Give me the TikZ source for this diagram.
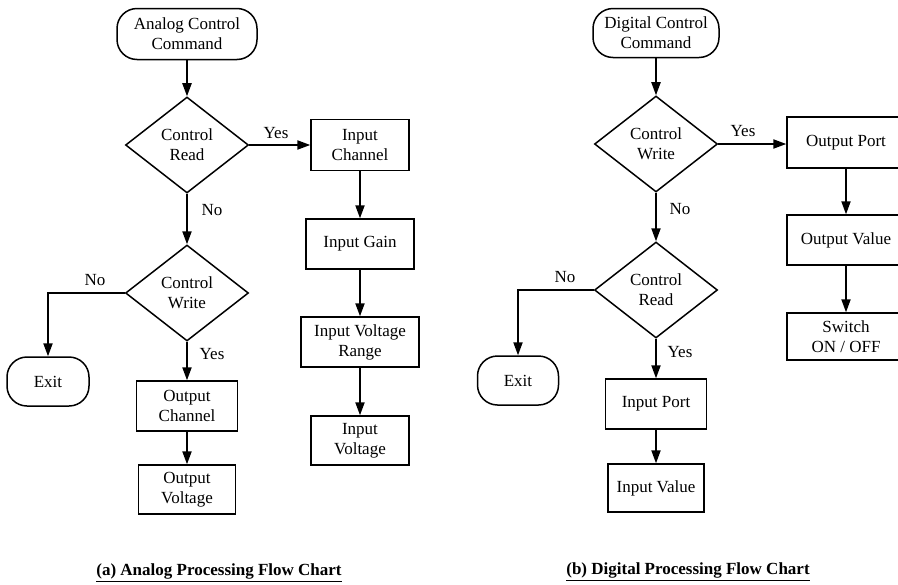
\documentclass[tikz,border=0pt]{standalone}
\usepackage{fontspec}
\setmainfont{Liberation Serif}
\usetikzlibrary{shapes.geometric,arrows.meta}
\begin{document}
\begin{tikzpicture}[x=0.5pt,y=-0.5pt,
  every node/.style={font=\fontsize{8.5}{10}\selectfont, align=center},
  flowbox/.style={draw, line width=0.75pt, rectangle, inner sep=1pt},
  decision/.style={draw, line width=0.75pt, diamond, inner sep=0pt,
    minimum width=61.5pt, minimum height=48pt},
  terminal/.style={draw, line width=0.75pt, rectangle, rounded corners=10pt, inner sep=1pt},
  flow/.style={line width=0.75pt, -{Triangle[length=6.5pt,width=4.6pt]}},
  lbl/.style={inner sep=0pt},
  caption/.style={font=\fontsize{8.5}{10}\bfseries\selectfont}
]
\useasboundingbox (0,0) rectangle (898,584);
\fill[white] (0,0) rectangle (898,584);
\clip (0,0) rectangle (898,584);

% ---------- (a) analog processing ----------
\node[terminal, minimum width=70pt, minimum height=25.5pt] (acmd) at (187,34) {Analog Control\\Command};
\node[decision] (aread) at (187,145) {Control\\Read};
\node[flowbox, minimum width=49pt, minimum height=25.5pt] (ainch) at (360,145) {Input\\Channel};
\node[flowbox, minimum width=54pt, minimum height=25pt] (again) at (360,244) {Input Gain};
\node[flowbox, minimum width=59pt, minimum height=25pt] (arange) at (360,342) {Input Voltage\\Range};
\node[flowbox, minimum width=49pt, minimum height=24.5pt] (ainv) at (360,440.5) {Input\\Voltage};
\node[decision] (awrite) at (187,293) {Control\\Write};
\node[terminal, minimum width=41pt, minimum height=24.5pt] (aexit) at (48,381.5) {Exit};
\node[flowbox, minimum width=50.5pt, minimum height=25pt] (aoutch) at (187,406) {Output\\Channel};
\node[flowbox, minimum width=48.5pt, minimum height=24.5pt] (aoutv) at (187,489.5) {Output\\Voltage};

\draw[flow] (acmd) -- (aread);
\draw[flow] (aread.east) -- (ainch.west);
\draw[flow] (aread.south) -- (awrite.north);
\draw[flow] (awrite.west) -| (aexit.north);
\draw[flow] (awrite.south) -- (aoutch.north);
\draw[flow] (aoutch) -- (aoutv);
\draw[flow] (ainch) -- (again);
\draw[flow] (again) -- (arange);
\draw[flow] (arange) -- (ainv);

\node[lbl] (ayes1) at (276,133) {Yes};
\node[lbl] (ano1) at (212,210) {No};
\node[lbl] (ano2) at (95,280) {No};
\node[lbl] (ayes2) at (212,354) {Yes};

% ---------- (b) digital processing ----------
\node[terminal, minimum width=63pt, minimum height=24.5pt] (dcmd) at (656,33) {Digital Control\\Command};
\node[decision] (dwrite) at (656,144) {Control\\Write};
\node[flowbox, minimum width=59pt, minimum height=25.5pt] (doutp) at (846,142.5) {Output Port};
\node[flowbox, minimum width=59pt, minimum height=25pt] (doutv) at (846,240) {Output Value};
\node[flowbox, minimum width=59pt, minimum height=23.5pt] (dsw) at (846,336.5) {Switch\\ON / OFF};
\node[decision] (dread) at (656,290) {Control\\Read};
\node[terminal, minimum width=40.5pt, minimum height=24.5pt] (dexit) at (518,380.5) {Exit};
\node[flowbox, minimum width=50.5pt, minimum height=25pt] (dinp) at (656,404) {Input Port};
\node[flowbox, minimum width=48pt, minimum height=24pt] (dinv) at (656,488) {Input Value};

\draw[flow] (dcmd) -- (dwrite);
\draw[flow] (dwrite.east) -- (doutp.west |- dwrite.east);
\draw[flow] (dwrite.south) -- (dread.north);
\draw[flow] (dread.west) -| (dexit.north);
\draw[flow] (dread.south) -- (dinp.north);
\draw[flow] (dinp) -- (dinv);
\draw[flow] (doutp) -- (doutv);
\draw[flow] (doutv) -- (dsw);

\node[lbl] (dyes1) at (743,131) {Yes};
\node[lbl] (dno1) at (680,209) {No};
\node[lbl] (dno2) at (565,277) {No};
\node[lbl] (dyes2) at (680,352) {Yes};

% ---------- captions ----------
\node[caption] (capa) at (219,573) {\underline{(a) Analog Processing Flow Chart}};
\node[caption] (capb) at (688,572) {\underline{(b) Digital Processing Flow Chart}};
\end{tikzpicture}
\end{document}
